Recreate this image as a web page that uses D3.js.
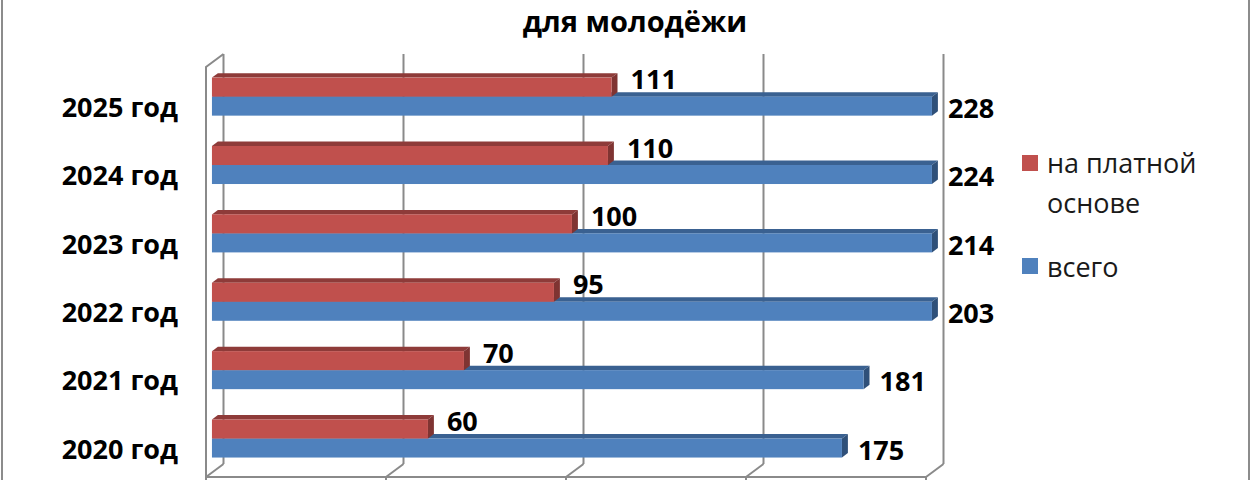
<!DOCTYPE html>
<html>
<head>
<meta charset="utf-8">
<script src="https://cdn.jsdelivr.net/npm/d3@7"></script>
<style>
  body { margin: 0; background: #fff; }
  text { font-family: "Open Sans", "Noto Sans", sans-serif; }
</style>
</head>
<body>
<script>
const w = 1260
const h = 480

// data
const categories = ["2020 год", "2021 год", "2022 год", "2023 год", "2024 год", "2025 год"]
const paidValues = [60, 70, 95, 100, 110, 111]
const totalValues = [175, 181, 203, 214, 224, 228]
const seriesNames = ["на платной основе", "всего"]
const xTicks = [0, 50, 100, 150, 200]
const titleText = "для молодёжи"

// 3d look: depth offset of the back wall
const DX = 17.5
const DY = -13
const barD0 = 0.34
const barD1 = 0.68

const colors = {
  paid:  { front: "#C0504D", top: "#8E3B39", side: "#7F3432" },
  total: { front: "#4F81BD", top: "#3A6191", side: "#2F5079" }
}

const svg = d3.select("body")
              .append("svg")
              .attr("width", w)
              .attr("height", h)

// chart area border
svg.append("rect")
    .attr("x", 2).attr("y", -10)
    .attr("width", 1247).attr("height", h + 20)
    .attr("fill", "none")
    .attr("stroke", "#8c8c8c")
    .attr("stroke-width", 2)

const x = d3.scaleLinear()
            .domain([0, 200])
            .range([206, 926])

const y = d3.scaleBand()
            .domain(categories.slice().reverse())
            .range([67, 477])
            .paddingInner(0.444)
            .paddingOuter(0.22)

const proj = (v, yy, d) => [x(v) + DX * d, yy + DY * d]
const pts = arr => arr.map(p => p.join(",")).join(" ")

const [yTop, yBot] = y.range()

// walls and gridlines
const grid = svg.append("g")
                .attr("stroke", "#8a8a8a")
                .attr("stroke-width", 2)
                .attr("fill", "none")

xTicks.forEach(t => {
  // back wall line
  grid.append("line")
      .attr("x1", proj(t, yTop, 1)[0]).attr("y1", proj(t, yTop, 1)[1])
      .attr("x2", proj(t, yBot, 1)[0]).attr("y2", proj(t, yBot, 1)[1])
  // floor diagonal
  grid.append("line")
      .attr("x1", proj(t, yBot, 1)[0]).attr("y1", proj(t, yBot, 1)[1])
      .attr("x2", proj(t, yBot, 0)[0]).attr("y2", proj(t, yBot, 0)[1])
  // small tick under the floor
  grid.append("line")
      .attr("x1", x(t)).attr("y1", yBot)
      .attr("x2", x(t)).attr("y2", yBot + 8)
})

// left side wall
grid.append("polyline")
    .attr("points", pts([proj(0, yBot, 0), proj(0, yTop, 0), proj(0, yTop, 1)]))

// front floor edge
grid.append("line")
    .attr("x1", x(0)).attr("y1", yBot)
    .attr("x2", x(200)).attr("y2", yBot)

// bars
const drawBar = (g, v, t, b, c) => {
  const vc = Math.min(v, x.domain()[1])
  g.append("polygon")
    .attr("points", pts([proj(0, t, barD0), proj(vc, t, barD0), proj(vc, t, barD1), proj(0, t, barD1)]))
    .attr("fill", c.top)
  g.append("polygon")
    .attr("points", pts([proj(vc, t, barD0), proj(vc, t, barD1), proj(vc, b, barD1), proj(vc, b, barD0)]))
    .attr("fill", c.side)
  const f0 = proj(0, t, barD0)
  const f1 = proj(vc, b, barD0)
  g.append("rect")
    .attr("x", f0[0]).attr("y", f0[1])
    .attr("width", f1[0] - f0[0]).attr("height", f1[1] - f0[1])
    .attr("fill", c.front)
}

const bars = svg.append("g")
const half = y.bandwidth() / 2

categories.forEach((cat, i) => {
  const top = y(cat)
  drawBar(bars, totalValues[i], top + half, top + y.bandwidth(), colors.total)
  drawBar(bars, paidValues[i], top, top + half, colors.paid)
})

// value labels
const labels = svg.append("g")
                  .attr("font-weight", "bold")
                  .attr("font-size", 27)
                  .attr("fill", "#000")

categories.forEach((cat, i) => {
  const top = y(cat)
  const tv = Math.min(totalValues[i], 200)
  const pv = Math.min(paidValues[i], 200)
  labels.append("text")
        .attr("x", proj(tv, 0, barD1)[0] + 10)
        .attr("y", proj(0, top + half * 1.5, barD0)[1] + 2)
        .attr("dy", "0.36em")
        .text(totalValues[i])
  labels.append("text")
        .attr("x", proj(pv, 0, barD1)[0] + 13)
        .attr("y", proj(0, top + half * 0.5, barD0)[1] - 7.5)
        .attr("dy", "0.36em")
        .text(paidValues[i])
})

// category labels
svg.append("g")
   .attr("font-weight", "bold")
   .attr("font-size", 27)
   .attr("text-anchor", "end")
   .selectAll("text")
   .data(categories)
   .enter()
   .append("text")
     .attr("x", 178)
     .attr("y", d => y(d) + half + 6)
     .attr("dy", "0.36em")
     .text(d => d)

// title
svg.append("text")
   .attr("x", 635)
   .attr("y", 32)
   .attr("text-anchor", "middle")
   .attr("font-weight", "bold")
   .attr("font-size", 29)
   .text(titleText)

// legend
const legend = svg.append("g")
                  .attr("font-size", 27)
                  .attr("fill", "#1a1a1a")

legend.append("rect")
      .attr("x", 1022).attr("y", 155).attr("width", 16).attr("height", 16)
      .attr("fill", colors.paid.front)
const paidLabel = legend.append("text")
      .attr("x", 1047).attr("y", 163).attr("dy", "0.36em")
paidLabel.append("tspan").text(seriesNames[0].split(" ")[0] + " " + seriesNames[0].split(" ")[1])
paidLabel.append("tspan").attr("x", 1047).attr("dy", 40).text(seriesNames[0].split(" ")[2])

legend.append("rect")
      .attr("x", 1022).attr("y", 258).attr("width", 16).attr("height", 16)
      .attr("fill", colors.total.front)
legend.append("text")
      .attr("x", 1047).attr("y", 267).attr("dy", "0.36em")
      .text(seriesNames[1])
</script>
</body>
</html>
